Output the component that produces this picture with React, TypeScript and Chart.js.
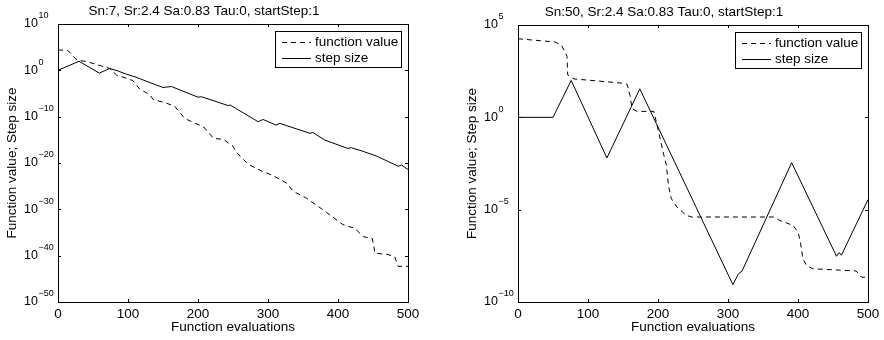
import React, { useEffect, useRef } from 'react';
import { Chart, registerables } from 'chart.js';

Chart.register(...registerables);

const FONT = '"Liberation Sans", Arial, Helvetica, sans-serif';
const FS = 13.5;

const leftTitle = 'Sn:7, Sr:2.4 Sa:0.83 Tau:0, startStep:1';
const rightTitle = 'Sn:50, Sr:2.4 Sa:0.83 Tau:0, startStep:1';
const xLabel = 'Function evaluations';
const yLabel = 'Function value; Step size';
const seriesNames = ['function value', 'step size'];
const xTicks = [0, 100, 200, 300, 400, 500];
const leftYTickExps = [10, 0, -10, -20, -30, -40, -50];
const rightYTickExps = [5, 0, -5, -10];

// Left panel (Sn:7)
const leftFvX = [0, 14, 27, 41, 74, 84, 98, 107, 117, 131, 136, 155, 167, 174, 181, 203, 210, 222, 236, 250, 255, 272, 289, 307, 327, 336, 355, 372, 384, 407, 424, 436, 449, 453, 470, 481, 486, 500];
const leftFvY = [2.5e4, 2e4, 160, 80, 2.5, 0.08, 0.02, 6e-3, 8e-5, 6e-6, 5e-7, 8e-8, 1.6e-8, 8e-10, 4e-11, 1.3e-12, 3.2e-13, 2e-15, 1.3e-15, 4e-17, 2e-18, 5e-21, 2.5e-22, 2e-23, 4e-25, 8e-27, 2.5e-28, 4e-30, 2e-31, 5e-34, 8e-35, 1.3e-36, 5e-37, 3.2e-40, 2e-40, 6e-41, 5e-43, 5e-43];
const leftStepX = [0, 30, 59, 74, 86, 98, 110, 127, 150, 162, 200, 205, 243, 246, 286, 293, 311, 317, 360, 364, 381, 414, 419, 433, 455, 486, 491, 500];
const leftStepY = [1, 90, 0.25, 2.5, 0.7, 0.14, 0.04, 4e-3, 2e-4, 3.2e-4, 1.6e-6, 2e-6, 2.5e-8, 3.2e-8, 8e-12, 2.5e-11, 1.6e-12, 3.5e-12, 2.5e-14, 4e-14, 9e-16, 1.4e-17, 2e-17, 4.5e-18, 3.2e-19, 2e-21, 3.5e-21, 4e-22];

// Right panel (Sn:50)
const rightFvX = [0, 53, 62, 68, 70, 71, 80, 151, 156, 160, 163, 170, 194, 201, 208, 212, 215, 219, 227, 240, 248, 365, 374, 393, 400, 403, 407, 412, 421, 483, 491, 500];
const rightFvY = [1.8e4, 1.2e4, 8e3, 3e3, 2e3, 200, 120, 70, 60, 15, 3, 2.1, 2.1, 0.16, 0.01, 2.5e-3, 2e-4, 4e-5, 1.4e-5, 5e-6, 4e-6, 4e-6, 2.6e-6, 1.4e-6, 6e-7, 2.2e-7, 2.2e-8, 1e-8, 6.3e-9, 4.8e-9, 2.2e-9, 2.2e-9];
const rightStepX = [0, 50, 76, 127, 174, 307, 315, 320, 391, 455, 459, 462, 500];
const rightStepY = [1, 1, 100, 6.3e-3, 35, 8.7e-10, 3.4e-9, 4.7e-9, 3.5e-3, 3e-8, 4.7e-8, 3.4e-8, 3.5e-5];

type PanelProps = {
  title: string;
  fvX: number[];
  fvY: number[];
  stepX: number[];
  stepY: number[];
  tickExps: number[];
  padLeft: number;
  padRight: number;
  padTop: number;
};

function expText(e: number): string {
  return e < 0 ? '\u2212' + String(-e) : String(e);
}

function makeAxesPlugin(tickExps: number[]) {
  return {
    id: 'matlabAxes',
    afterDraw(chart: any) {
      const { ctx, chartArea, scales } = chart;
      const { left, right, top, bottom } = chartArea;
      ctx.save();
      ctx.strokeStyle = '#000';
      ctx.fillStyle = '#000';
      ctx.lineWidth = 1;
      ctx.strokeRect(Math.round(left) + 0.5, Math.round(top) + 0.5, Math.round(right - left), Math.round(bottom - top));
      ctx.beginPath();
      for (const v of xTicks) {
        const px = Math.round(scales.x.getPixelForValue(v)) + 0.5;
        ctx.moveTo(px, bottom);
        ctx.lineTo(px, bottom - 3);
        ctx.moveTo(px, top);
        ctx.lineTo(px, top + 3);
      }
      for (const e of tickExps) {
        const py = Math.round(scales.y.getPixelForValue(Math.pow(10, e))) + 0.5;
        ctx.moveTo(left, py);
        ctx.lineTo(left + 3, py);
        ctx.moveTo(right, py);
        ctx.lineTo(right - 3, py);
      }
      ctx.stroke();
      for (const e of tickExps) {
        const py = scales.y.getPixelForValue(Math.pow(10, e));
        ctx.font = '12.5px ' + FONT;
        ctx.textAlign = 'right';
        ctx.textBaseline = 'middle';
        ctx.fillText('10', left - 20, py);
        ctx.font = '9px ' + FONT;
        ctx.textAlign = 'left';
        ctx.fillText(expText(e), left - 19.5, py - 8);
      }
      const bw = 126;
      const bh = 36;
      const bx = Math.round(right - 7 - bw);
      const by = Math.round(top + 7);
      ctx.fillStyle = '#fff';
      ctx.fillRect(bx, by, bw, bh);
      ctx.strokeStyle = '#000';
      ctx.strokeRect(bx + 0.5, by + 0.5, bw, bh);
      const rows = [by + 11, by + 27];
      chart.data.datasets.forEach((ds: any, i: number) => {
        const ry = Math.round(rows[i]) + 0.5;
        ctx.beginPath();
        ctx.setLineDash(ds.borderDash || []);
        ctx.moveTo(bx + 7, ry);
        ctx.lineTo(bx + 36, ry);
        ctx.stroke();
        ctx.setLineDash([]);
        ctx.fillStyle = '#000';
        ctx.font = FS + 'px ' + FONT;
        ctx.textAlign = 'left';
        ctx.textBaseline = 'middle';
        ctx.fillText(ds.label, bx + 40, rows[i]);
      });
      ctx.restore();
    },
  };
}

function Panel(props: PanelProps) {
  const ref = useRef<HTMLCanvasElement | null>(null);
  useEffect(() => {
    if (!ref.current) return;
    Chart.defaults.font.family = FONT;
    Chart.defaults.color = '#000';
    const tickMin = Math.pow(10, Math.min(...props.tickExps));
    const tickMax = Math.pow(10, Math.max(...props.tickExps));
    const chart = new Chart(ref.current, {
      type: 'line',
      data: {
        datasets: [
          {
            label: seriesNames[0],
            data: props.fvX.map((x, i) => ({ x, y: props.fvY[i] })),
            borderColor: '#000',
            borderWidth: 1,
            borderDash: [5, 4],
            pointRadius: 0,
            tension: 0,
            fill: false,
          },
          {
            label: seriesNames[1],
            data: props.stepX.map((x, i) => ({ x, y: props.stepY[i] })),
            borderColor: '#000',
            borderWidth: 1,
            pointRadius: 0,
            tension: 0,
            fill: false,
          },
        ],
      },
      options: {
        animation: false,
        responsive: false,
        devicePixelRatio: 1,
        layout: { padding: { left: props.padLeft, right: props.padRight, top: props.padTop, bottom: 0 } },
        plugins: {
          legend: { display: false },
          tooltip: { enabled: false },
          title: {
            display: true,
            text: props.title,
            color: '#000',
            font: { size: FS, weight: 'normal', family: FONT },
            padding: { top: 1, bottom: 4.8 },
          },
        },
        scales: {
          x: {
            type: 'linear',
            min: 0,
            max: 500,
            ticks: { stepSize: 100, color: '#000', font: { size: FS, family: FONT }, padding: 4, maxRotation: 0, autoSkip: false },
            grid: { display: false, drawTicks: false },
            border: { display: false },
            title: { display: true, text: xLabel, color: '#000', font: { size: FS, family: FONT }, padding: { top: 0, bottom: 5 } },
            afterFit: (s: any) => { s.height = 38; },
          },
          y: {
            type: 'logarithmic',
            min: tickMin,
            max: tickMax,
            ticks: { display: false },
            grid: { display: false, drawTicks: false },
            border: { display: false },
            title: { display: true, text: yLabel, color: '#000', font: { size: FS, family: FONT }, padding: { top: 4, bottom: 0 } },
            afterFit: (s: any) => { s.width = 58; },
          },
        },
      } as any,
      plugins: [makeAxesPlugin(props.tickExps)],
    });
    return () => chart.destroy();
  }, []);
  return <canvas ref={ref} width={442} height={340} style={{ display: 'block', width: 442, height: 340 }} />;
}

export default function App() {
  return (
    <div style={{ position: 'absolute', left: 0, top: 0, width: 884, height: 340, display: 'flex', background: '#fff' }}>
      <Panel title={leftTitle} fvX={leftFvX} fvY={leftFvY} stepX={leftStepX} stepY={leftStepY} tickExps={leftYTickExps} padLeft={0} padRight={34} padTop={2} />
      <Panel title={rightTitle} fvX={rightFvX} fvY={rightFvY} stepX={rightStepX} stepY={rightStepY} tickExps={rightYTickExps} padLeft={18} padRight={16} padTop={3} />
    </div>
  );
}
